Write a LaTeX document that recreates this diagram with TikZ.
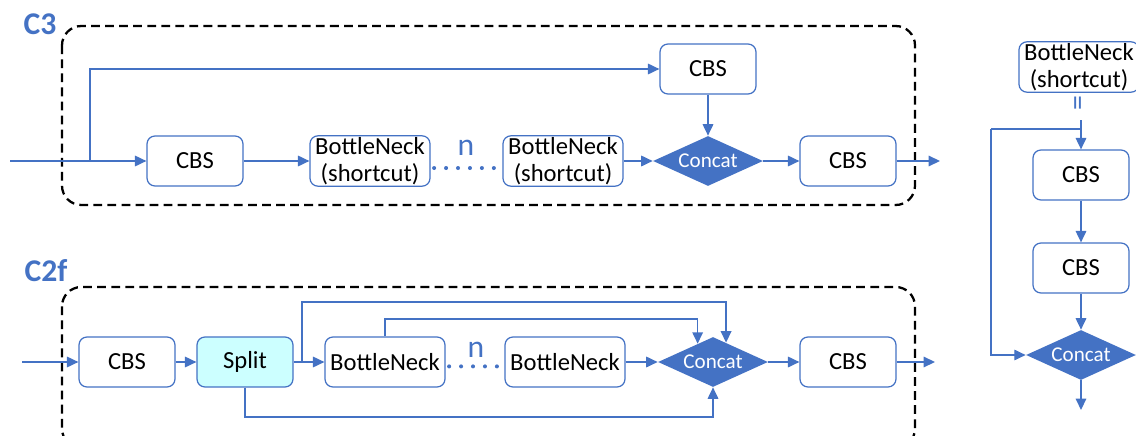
\documentclass[tikz,border=0pt]{standalone}
\usepackage{fontspec}
\setmainfont{Carlito}
\usetikzlibrary{arrows.meta}
\usetikzlibrary{shapes.geometric}
\definecolor{lineblue}{HTML}{4472C4}
\definecolor{splitcyan}{HTML}{CCFFFF}

\begin{document}
\begin{tikzpicture}[x=0.02cm,y=-0.02cm,
  blk/.style={draw=lineblue,line width=0.7pt,rounded corners=4.5pt,fill=white,
    minimum width=1.92cm,minimum height=1cm,inner sep=1pt,align=center,
    font=\fontsize{14}{15}\selectfont},
  wideblk/.style={blk,minimum width=2.4cm},
  concatnode/.style={diamond,fill=lineblue,text=white,inner sep=0pt,aspect=2.2,
    minimum width=2.2cm,minimum height=1cm,font=\fontsize{12}{13}\selectfont},
  arr/.style={draw=lineblue,line width=0.85pt,-{Triangle[length=6.5pt,width=6pt]}},
  plain/.style={draw=lineblue,line width=0.85pt},
  dots/.style={draw=lineblue,line width=2.3pt,line cap=round,dash pattern=on 0pt off 6.8pt},
  frame/.style={draw=black,line width=1.3pt,dash pattern=on 5pt off 3pt,rounded corners=11pt},
  title/.style={text=lineblue,font=\fontsize{18}{20}\selectfont\bfseries},
  nlabel/.style={text=lineblue,font=\fontsize{18}{20}\selectfont}]
  \useasboundingbox (0,0) rectangle (1136,436);

  \draw[frame] (62,26) rectangle (915,205);
  \draw[frame] (62,287) rectangle (915,448);
  \node[title] (t3) at (40,24) {C3};
  \node[title] (t2f) at (46,271) {C2f};

  \node[blk] (cbsA) at (195,161) {CBS};
  \node[wideblk] (bnA) at (370,161) {BottleNeck\\(shortcut)};
  \node[wideblk] (bnB) at (563,161) {BottleNeck\\(shortcut)};
  \node[concatnode] (concatA) at (708,161) {Concat};
  \node[blk] (cbsTop) at (708,69) {CBS};
  \node[blk] (cbsB) at (848,161) {CBS};
  \node[nlabel] (nA) at (466,148) {n};
  \coordinate (c3in) at (10,161);
  \coordinate (c3br) at (90,161);
  \coordinate (c3out) at (940,161);

  \draw[arr] (c3in) -- (cbsA);
  \draw[arr] (c3br) |- (cbsTop);
  \draw[arr] (cbsA) -- (bnA);
  \draw[dots] ([yshift=-4pt,xshift=2pt]bnA.east) -- ([yshift=-4pt,xshift=-2pt]bnB.west);
  \draw[arr] (bnB) -- (concatA);
  \draw[arr] (cbsTop) -- (concatA);
  \draw[arr] (concatA) -- (cbsB);
  \draw[arr] (cbsB) -- (c3out);

  \node[blk] (cbsC) at (127,362) {CBS};
  \node[blk,fill=splitcyan] (split) at (245,362) {Split};
  \node[wideblk] (bnC) at (385,362) {BottleNeck};
  \node[wideblk] (bnD) at (565,362) {BottleNeck};
  \node[concatnode] (concatC) at (713,362) {Concat};
  \node[blk] (cbsD) at (848,362) {CBS};
  \node[nlabel] (nC) at (476,350) {n};
  \coordinate (c2in) at (22,362);
  \coordinate (c2br) at (302,362);
  \coordinate (c2out) at (935,362);
  \coordinate (lvlA) at (0,302);
  \coordinate (lvlB) at (0,319);
  \coordinate (lvlC) at (0,417);

  \draw[arr] (c2in) -- (cbsC);
  \draw[arr] (cbsC) -- (split);
  \draw[arr] (split) -- (bnC);
  \draw[arr] (c2br) |- (concatC.56 |- lvlA) -- (concatC.56);
  \draw[arr] (bnC.north) |- (concatC.130 |- lvlB) -- (concatC.130);
  \draw[arr] (split.south) |- (concatC.south |- lvlC) -- (concatC.south);
  \draw[dots] ([yshift=-2.5pt,xshift=2pt]bnC.east) -- ([yshift=-2.5pt,xshift=-2pt]bnD.west);
  \draw[arr] (bnD) -- (concatC);
  \draw[arr] (concatC) -- (cbsD);
  \draw[arr] (cbsD) -- (c2out);

  \node[wideblk] (bnR) at (1079,67) {BottleNeck\\(shortcut)};
  \node[text=lineblue,rotate=90,font=\fontsize{17}{19}\selectfont] (eqR) at (1081,103) {=};
  \node[blk] (cbsR1) at (1081,175) {CBS};
  \node[blk] (cbsR2) at (1081,268) {CBS};
  \node[concatnode] (concatR) at (1081,355) {Concat};
  \coordinate (rin) at (1081,120);
  \coordinate (rbr) at (1081,129);
  \coordinate (rleft) at (991,129);
  \coordinate (rout) at (1081,410);

  \draw[arr] (rin) -- (cbsR1);
  \draw[plain] (rbr) -- (rleft);
  \draw[arr] (rleft) |- (concatR);
  \draw[arr] (cbsR1) -- (cbsR2);
  \draw[arr] (cbsR2) -- (concatR);
  \draw[arr] (concatR) -- (rout);
\end{tikzpicture}
\end{document}
